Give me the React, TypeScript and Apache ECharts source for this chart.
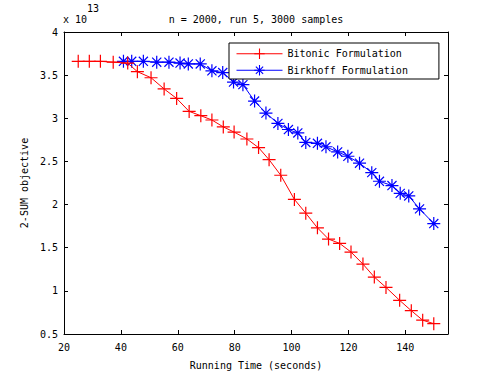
import React, { useEffect, useRef } from "react";
import * as echarts from "echarts";

const titleText = "n = 2000, run 5, 3000 samples";
const xName = "Running Time (seconds)";
const yName = "2-SUM objective";
const seriesNames = ["Bitonic Formulation", "Birkhoff Formulation"];

// values in units of 1e13
const bitonicX = [25.0, 28.9, 32.8, 37.3, 42.4, 45.8, 50.6, 55.2, 59.6, 64.0, 68.1, 72.0, 76.0, 79.8, 84.3, 88.4, 92.1, 96.2, 101.0, 105.0, 109.1, 113.0, 116.9, 120.9, 125.1, 129.1, 133.2, 138.0, 142.1, 146.1, 150.0];
const bitonicY = [3.66, 3.66, 3.66, 3.65, 3.64, 3.54, 3.47, 3.34, 3.23, 3.08, 3.03, 2.98, 2.90, 2.84, 2.76, 2.66, 2.52, 2.34, 2.06, 1.90, 1.73, 1.60, 1.55, 1.45, 1.31, 1.16, 1.04, 0.89, 0.77, 0.66, 0.62];
const birkhoffX = [40.9, 43.8, 47.9, 52.6, 56.9, 60.8, 63.7, 67.9, 72.0, 75.8, 79.6, 82.9, 87.0, 91.0, 95.2, 98.9, 102.2, 105.0, 109.1, 112.1, 116.2, 119.8, 123.9, 128.2, 130.9, 135.3, 138.2, 141.2, 145.0, 150.0];
const birkhoffY = [3.66, 3.66, 3.66, 3.65, 3.65, 3.64, 3.63, 3.63, 3.55, 3.53, 3.42, 3.39, 3.20, 3.06, 2.94, 2.87, 2.83, 2.72, 2.71, 2.67, 2.61, 2.56, 2.48, 2.37, 2.27, 2.22, 2.13, 2.10, 1.95, 1.78];

const FONT = "DejaVu Sans Mono";
const PLUS = "path://M0,-1L0,1M-1,0L1,0";
const STAR = "path://M0,-1L0,1M-1,0L1,0M-0.7,-0.7L0.7,0.7M-0.7,0.7L0.7,-0.7";

export default function App() {
  const ref = useRef<HTMLDivElement>(null);
  useEffect(() => {
    if (!ref.current) return;
    const chart = echarts.init(ref.current, undefined, { renderer: "svg" });
    const axisLine = { show: true, lineStyle: { color: "#000", width: 1 } };
    const axisTick = { show: true, inside: true, length: 4, lineStyle: { color: "#000" } };
    const xFmt = (v: number) => (v % 20 === 0 ? String(v) : "");
    chart.setOption({
      animation: false,
      backgroundColor: "#fff",
      textStyle: { fontFamily: FONT },
      grid: { left: 64, top: 32, right: 47, bottom: 41, containLabel: false },
      graphic: [
        { type: "text", x: 256, y: 19, style: { text: titleText, font: `10px ${FONT}`, fill: "#000", textAlign: "center", textVerticalAlign: "middle" } },
        { type: "text", x: 63, y: 19, style: { text: "x 10", font: `10px ${FONT}`, fill: "#000", textAlign: "left", textVerticalAlign: "middle" } },
        { type: "text", x: 87, y: 8, style: { text: "13", font: `10px ${FONT}`, fill: "#000", textAlign: "left", textVerticalAlign: "middle" } },
      ],
      legend: {
        orient: "vertical",
        left: 229,
        top: 43,
        itemWidth: 46,
        itemHeight: 13,
        itemGap: 5,
        padding: [5, 31, 3, 7],
        borderColor: "#000",
        borderWidth: 1,
        backgroundColor: "#fff",
        lineStyle: { width: 1 },
        itemStyle: { borderWidth: 1.1 },
        textStyle: { fontFamily: FONT, fontSize: 10, color: "#000" },
        data: seriesNames,
      },
      xAxis: [
        {
          type: "value", min: 20, max: 155, interval: 20, position: "bottom",
          name: xName, nameLocation: "middle", nameGap: 26,
          nameTextStyle: { fontFamily: FONT, fontSize: 10, color: "#000" },
          axisLine, axisTick, splitLine: { show: false },
          axisLabel: { formatter: xFmt, fontFamily: FONT, fontSize: 10, color: "#000", margin: 8, showMaxLabel: false },
        },
        {
          type: "value", min: 20, max: 155, interval: 20, position: "top",
          axisLine, axisTick, splitLine: { show: false }, axisLabel: { show: false },
        },
      ],
      yAxis: [
        {
          type: "value", min: 0.5, max: 4, interval: 0.5, position: "left",
          name: yName, nameLocation: "middle", nameGap: 34,
          nameTextStyle: { fontFamily: FONT, fontSize: 10, color: "#000" },
          axisLine, axisTick, splitLine: { show: false },
          axisLabel: { fontFamily: FONT, fontSize: 10, color: "#000", margin: 6 },
        },
        {
          type: "value", min: 0.5, max: 4, interval: 0.5, position: "right",
          axisLine, axisTick, splitLine: { show: false }, axisLabel: { show: false },
        },
      ],
      series: [
        {
          name: seriesNames[0], type: "line",
          data: bitonicX.map((x, i) => [x, bitonicY[i]]),
          symbol: PLUS, symbolSize: 13, showAllSymbol: true,
          lineStyle: { color: "#ff0000", width: 1 },
          itemStyle: { color: "#ff0000", borderColor: "#ff0000", borderWidth: 1.2 },
          z: 3,
        },
        {
          name: seriesNames[1], type: "line",
          data: birkhoffX.map((x, i) => [x, birkhoffY[i]]),
          symbol: STAR, symbolSize: 13, showAllSymbol: true,
          lineStyle: { color: "#0000ff", width: 1 },
          itemStyle: { color: "#0000ff", borderColor: "#0000ff", borderWidth: 1.2 },
          z: 2,
        },
      ],
    });
    return () => chart.dispose();
  }, []);
  return <div ref={ref} style={{ width: 495, height: 375, position: "absolute", left: 0, top: 0 }} />;
}
